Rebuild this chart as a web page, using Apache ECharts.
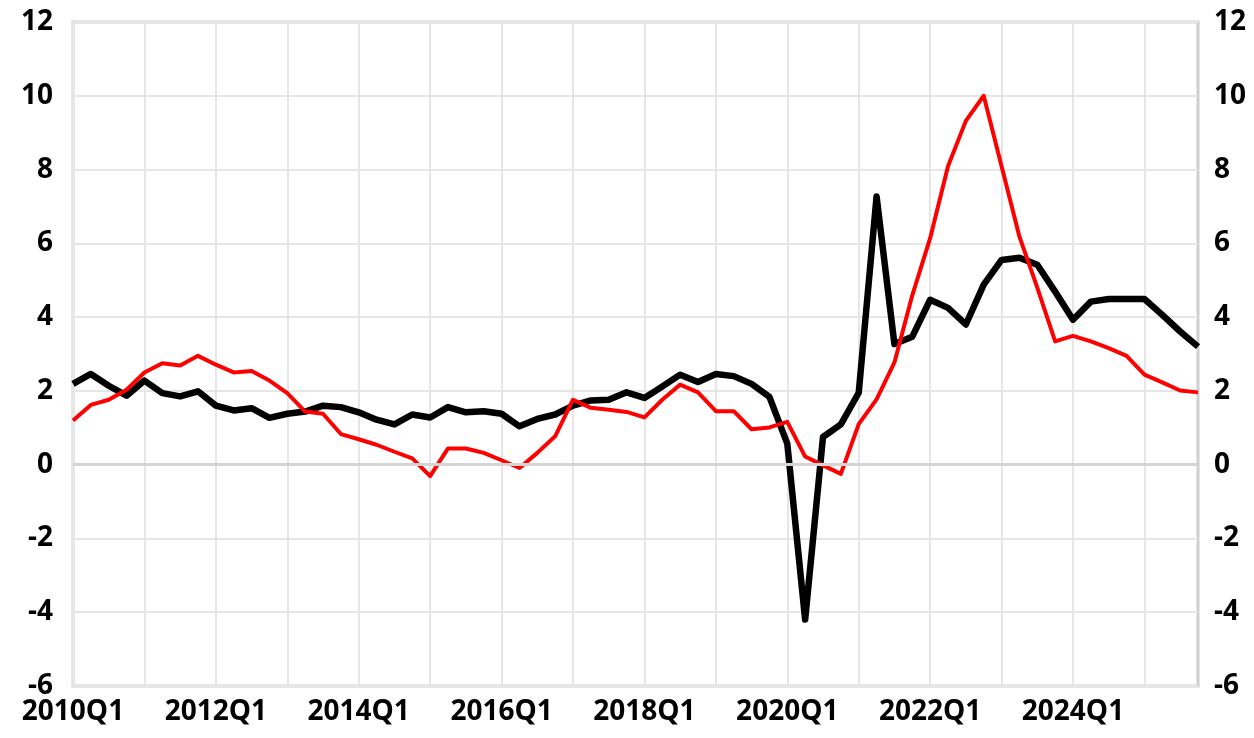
<!DOCTYPE html>
<html>
<head>
<meta charset="utf-8">
<script src="https://cdn.jsdelivr.net/npm/echarts@6/dist/echarts.min.js"></script>
<style>
  html, body { margin: 0; padding: 0; background: #fff; }
  #chart { width: 1254px; height: 738px; }
</style>
</head>
<body>
<div id="chart"></div>
<script>
const quarters = []
for (let y = 2010; y <= 2025; y++) {
  for (let q = 1; q <= 4; q++) quarters.push(`${y}Q${q}`)
}

const blackSeries = [
  2.19, 2.46, 2.14, 1.87, 2.28, 1.94, 1.85, 1.99,
  1.60, 1.47, 1.53, 1.27, 1.38, 1.44, 1.60, 1.56,
  1.42, 1.22, 1.09, 1.36, 1.28, 1.56, 1.42, 1.45,
  1.38, 1.04, 1.24, 1.36, 1.60, 1.74, 1.76, 1.96,
  1.81, 2.12, 2.44, 2.24, 2.46, 2.40, 2.19, 1.84,
  0.57, -4.2, 0.75, 1.09, 1.95, 7.27, 3.27, 3.47,
  4.47, 4.25, 3.80, 4.88, 5.55, 5.61, 5.42, 4.69,
  3.93, 4.42, 4.49, 4.49, 4.49, 4.06, 3.61, 3.20
]

const redSeries = [
  1.20, 1.62, 1.76, 2.03, 2.50, 2.75, 2.69, 2.95,
  2.71, 2.50, 2.54, 2.28, 1.94, 1.44, 1.38, 0.83,
  0.69, 0.54, 0.35, 0.17, -0.31, 0.44, 0.44, 0.32,
  0.12, -0.09, 0.32, 0.77, 1.76, 1.54, 1.49, 1.43,
  1.28, 1.76, 2.17, 1.96, 1.45, 1.45, 0.96, 1.01,
  1.16, 0.22, -0.02, -0.25, 1.10, 1.77, 2.77, 4.59,
  6.14, 8.09, 9.32, 10.0, 8.09, 6.18, 4.80, 3.34,
  3.49, 3.34, 3.16, 2.95, 2.44, 2.23, 2.01, 1.96
]

const labelFont = {
  fontFamily: 'Open Sans',
  fontWeight: 'bold',
  fontSize: 28,
  color: '#000'
}

const yAxisBase = {
  type: 'value',
  min: -6,
  max: 12,
  interval: 2,
  axisLine: { show: false },
  axisTick: { show: false }
}

const option = {
  animation: false,
  backgroundColor: '#fff',
  grid: {
    left: 73, right: 56, top: 22, bottom: 52,
    show: true,
    borderColor: '#cfcfcf',
    borderWidth: 3
  },
  xAxis: {
    type: 'category',
    data: quarters,
    boundaryGap: false,
    axisLine: { show: false },
    axisTick: { show: false },
    axisLabel: {
      ...labelFont,
      margin: 12,
      interval: (i) => i % 8 === 0
    },
    splitLine: {
      show: true,
      interval: (i) => i % 4 === 0,
      lineStyle: { color: '#e6e6e6', width: 2 }
    }
  },
  yAxis: [
    {
      ...yAxisBase,
      position: 'left',
      axisLabel: { ...labelFont, margin: 20 },
      splitLine: { show: true, lineStyle: { color: '#e6e6e6', width: 2 } }
    },
    {
      ...yAxisBase,
      position: 'right',
      axisLabel: { ...labelFont, margin: 16 },
      splitLine: { show: false }
    }
  ],
  series: [
    {
      type: 'line',
      data: blackSeries,
      symbol: 'none',
      lineStyle: { color: '#000', width: 6.5, join: 'round' },
      markLine: {
        silent: true,
        symbol: 'none',
        label: { show: false },
        lineStyle: { color: '#d4d4d4', width: 3, type: 'solid' },
        data: [{ yAxis: 0 }]
      },
      z: 2
    },
    {
      type: 'line',
      data: redSeries,
      symbol: 'none',
      lineStyle: { color: '#ff0000', width: 4, join: 'round' },
      z: 3
    }
  ]
}

const chart = echarts.init(document.getElementById('chart'))
chart.setOption(option)
</script>
</body>
</html>
